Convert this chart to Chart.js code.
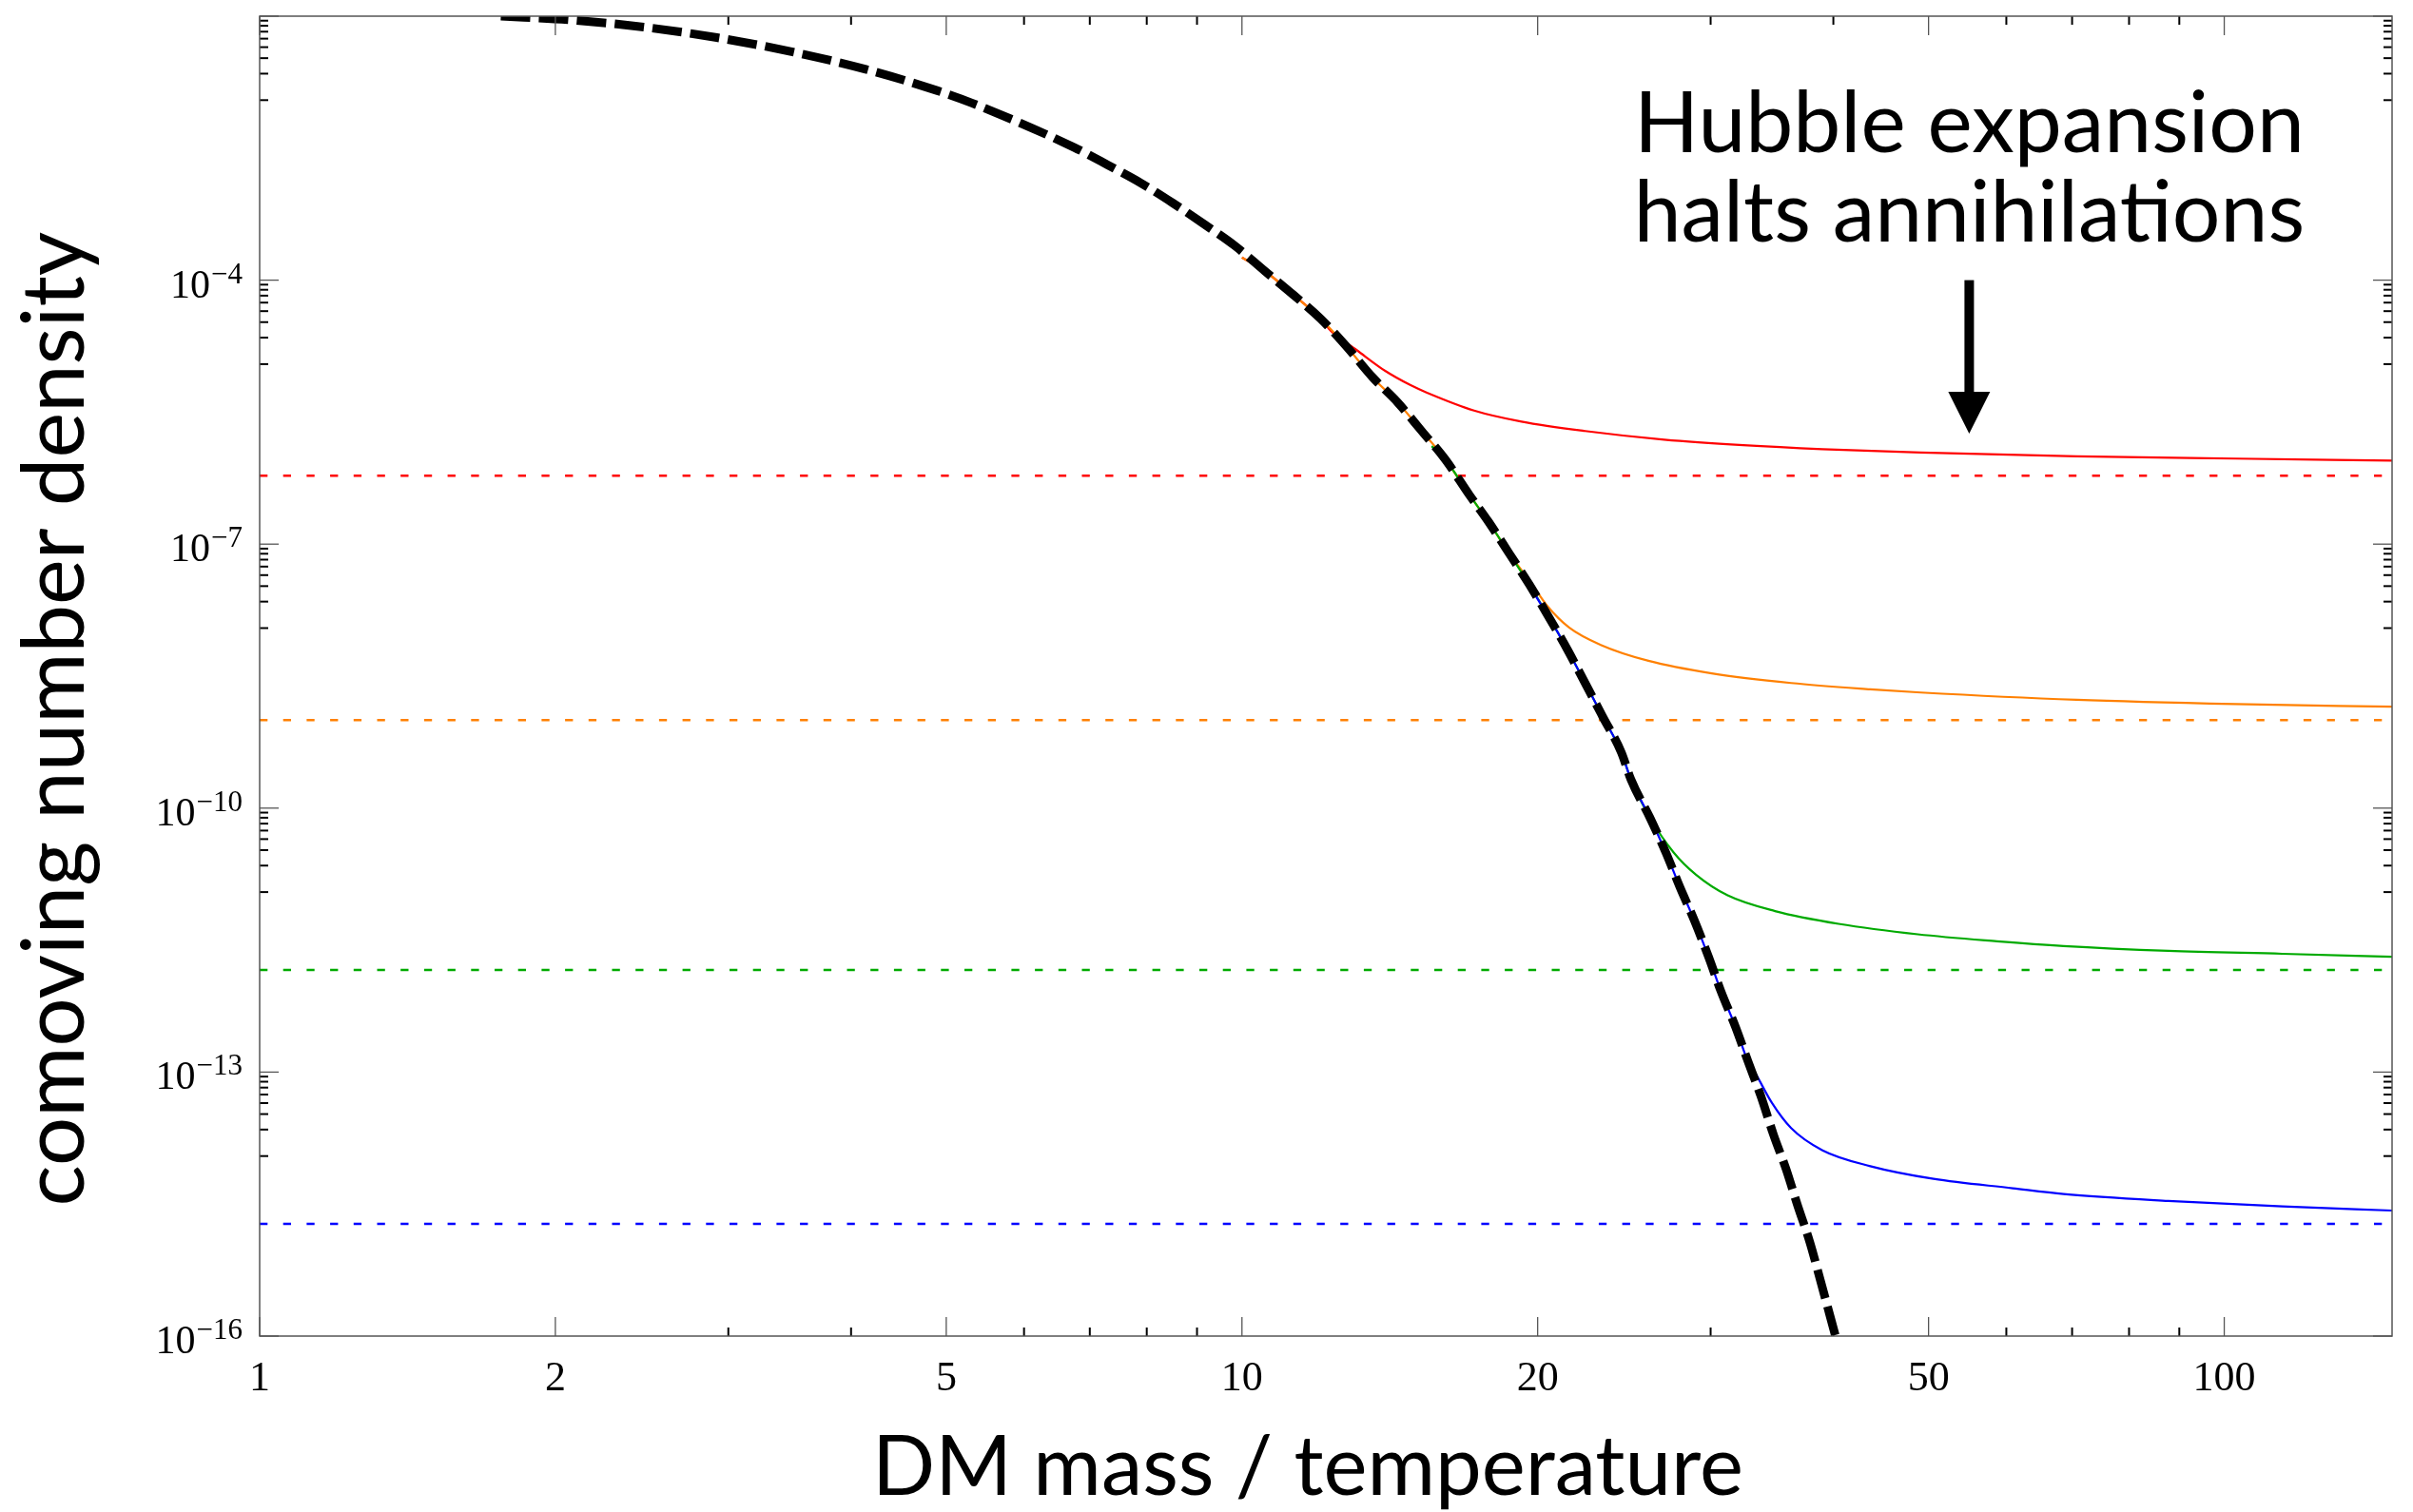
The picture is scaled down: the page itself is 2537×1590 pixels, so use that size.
<!DOCTYPE html>
<html>
<head>
<meta charset="utf-8">
<title>comoving number density</title>
<script src="https://cdn.jsdelivr.net/npm/chart.js@4.4.1/dist/chart.umd.min.js"></script>
<style>
  html, body { margin: 0; padding: 0; background: #fff; }
  #wrap { width: 2537px; height: 1590px; }
</style>
</head>
<body>
<div id="wrap"><canvas id="chart" width="2537" height="1590"></canvas></div>
<script>
// equilibrium abundance (thick black dashed)
const eqX = [1.76, 2.07, 2.46, 2.92, 3.47, 4.14, 4.89, 5.31, 6.75, 7.30, 7.90, 8.50, 9.16, 9.83,
  10.55, 11.28, 12.02, 12.75, 13.58, 14.41, 15.24, 16.11, 17.03, 17.81, 18.70, 19.62, 20.51,
  21.45, 22.35, 23.28, 24.34, 24.89, 26.02, 27.01, 27.92, 28.88, 29.86, 30.75, 31.80, 32.75,
  33.76, 34.76, 35.81, 36.75, 37.86, 38.72, 40.2];
const eqY = [0.1, 0.0908, 0.0751, 0.0571, 0.0397, 0.0249, 0.0143, 0.0103, 3.22e-3, 2.04e-3,
  1.26e-3, 7.55e-4, 4.30e-4, 2.47e-4, 1.27e-4, 6.81e-5, 3.66e-5, 1.81e-5, 7.89e-6, 4.06e-6,
  1.93e-6, 9.14e-7, 3.67e-7, 1.82e-7, 7.91e-8, 3.45e-8, 1.51e-8, 6.31e-9, 2.65e-9, 1.11e-9,
  4.27e-10, 2.11e-10, 7.80e-11, 3.13e-11, 1.26e-11, 5.27e-12, 2.03e-12, 8.17e-13, 3.27e-13,
  1.32e-13, 5.28e-14, 1.95e-14, 7.85e-15, 3.15e-15, 1.16e-15, 4.69e-16, 1.0e-16];

// solutions for four cross sections
const redX = [10, 10.55, 11.28, 12.02, 12.33, 13.09, 13.99, 14.85, 15.41, 17.23, 19.26, 22.35,
  26.91, 32.39, 39.0, 49.11, 70.74, 102.6, 148.2];
const redY = [1.81e-4, 1.27e-4, 6.81e-5, 3.66e-5, 2.62e-5, 1.60e-5, 9.31e-6, 6.4e-6, 5.30e-6,
  3.30e-6, 2.47e-6, 1.93e-6, 1.54e-6, 1.33e-6, 1.20e-6, 1.10e-6, 9.93e-7, 9.38e-7, 8.91e-7];

const orangeX = [10, 10.55, 11.28, 12.02, 12.75, 13.58, 14.41, 15.24, 16.11, 17.03, 17.81, 18.70,
  19.70, 20.44, 21.53, 23.19, 25.93, 30.08, 36.23, 43.62, 49.11, 70.74, 102.6, 148.2];
const orangeY = [1.81e-4, 1.27e-4, 6.81e-5, 3.66e-5, 1.81e-5, 7.89e-6, 4.06e-6, 1.93e-6, 9.14e-7,
  3.67e-7, 1.82e-7, 7.91e-8, 3.61e-8, 2.01e-8, 1.13e-8, 7.16e-9, 4.72e-9, 3.40e-9, 2.64e-9,
  2.24e-9, 2.06e-9, 1.70e-9, 1.52e-9, 1.42e-9];

const greenX = [15.6, 16.11, 17.03, 17.81, 18.70, 19.62, 20.51, 21.45, 22.35, 23.28, 24.34, 24.89,
  26.02, 27.51, 28.99, 31.22, 34.89, 40.49, 48.75, 58.69, 68.63, 87.69, 114.6, 148.2];
const greenY = [1.3e-6, 9.14e-7, 3.67e-7, 1.82e-7, 7.91e-8, 3.45e-8, 1.51e-8, 6.31e-9, 2.65e-9,
  1.11e-9, 4.27e-10, 2.11e-10, 7.80e-11, 3.13e-11, 1.75e-11, 1.02e-11, 6.76e-12,
  4.84e-12, 3.68e-12, 3.07e-12, 2.71e-12, 2.39e-12, 2.21e-12, 2.04e-12];

const blueX = [19.9, 20.51, 21.45, 22.35, 23.28, 24.34, 24.89, 26.02, 27.01, 27.92, 28.88, 29.86,
  30.75, 31.80, 32.75, 33.37, 34.63, 36.23, 39.0, 43.62, 50.59, 60.93, 68.63, 87.69, 114.6, 148.2];
const blueY = [2.6e-8, 1.51e-8, 6.31e-9, 2.65e-9, 1.11e-9, 4.27e-10, 2.11e-10, 7.80e-11, 3.13e-11,
  1.26e-11, 5.27e-12, 2.03e-12, 8.17e-13, 3.27e-13, 1.32e-13, 9.4e-14, 4.48e-14, 2.31e-14,
  1.29e-14, 8.53e-15, 6.12e-15, 4.78e-15, 4.11e-15, 3.43e-15, 2.97e-15, 2.67e-15];

// relic abundance levels (thin dashed), same order as colours
const relicLevels = [6.0e-7, 1.0e-9, 1.45e-12, 1.89e-15];
const seriesColors = ['#ff0000', '#ff8000', '#00aa00', '#0000ff'];

// axes
const xMin = 1, xMax = 148.2;
const yMin = 1e-16, yMax = 1e-1;
const xTickValues = [1, 2, 5, 10, 20, 50, 100];
const xTickLabels = ['1', '2', '5', '10', '20', '50', '100'];
const xMinorTicks = [3, 4, 6, 7, 8, 9, 30, 40, 60, 70, 80, 90];
const yTickExponents = [-16, -13, -10, -7, -4, -1];
const yTickLabels = ['10|\u221216', '10|\u221213', '10|\u221210', '10|\u22127', '10|\u22124', ''];

const xTitle = 'DM mass / temperature';
const yTitle = 'comoving number density';
const noteLines = ['Hubble expansion', 'halts annihilations'];
const noteX = 55, noteTipY = 1.8e-6, noteTopY = 1.0e-4;

function pts(xs, ys) {
  return xs.map((x, i) => ({x: x, y: ys[i]}));
}

function line(ctx, x1, y1, x2, y2) {
  ctx.beginPath();
  ctx.moveTo(x1, y1);
  ctx.lineTo(x2, y2);
  ctx.stroke();
}

function fitSize(ctx, text, family, target) {
  ctx.font = '100px ' + family;
  return 100 * target / ctx.measureText(text).width;
}

const frame = {
  id: 'frame',
  afterDraw(chart) {
    const ctx = chart.ctx;
    const a = chart.chartArea;
    const x = chart.scales.x, y = chart.scales.y;
    ctx.save();

    // minor ticks, inside the frame on all four sides
    ctx.strokeStyle = '#000';
    ctx.lineWidth = 2;
    xMinorTicks.forEach(v => {
      const px = x.getPixelForValue(v);
      line(ctx, px, a.bottom, px, a.bottom - 9);
      line(ctx, px, a.top, px, a.top + 9);
    });
    yTickExponents.forEach(e => {
      for (let k = 1; k <= 8; k++) {
        const v = Math.pow(10, e) * k / 9;
        if (v < yMin) continue;
        const py = y.getPixelForValue(v);
        line(ctx, a.left, py, a.left + 9, py);
        line(ctx, a.right, py, a.right - 9, py);
      }
    });

    // major ticks
    ctx.strokeStyle = '#555';
    ctx.lineWidth = 1.3;
    xTickValues.forEach(v => {
      const px = x.getPixelForValue(v);
      line(ctx, px, a.bottom, px, a.bottom - 20);
      line(ctx, px, a.top, px, a.top + 20);
    });
    yTickExponents.forEach(e => {
      const py = y.getPixelForValue(Math.pow(10, e));
      line(ctx, a.left, py, a.left + 20, py);
      line(ctx, a.right, py, a.right - 20, py);
    });

    // frame
    ctx.strokeStyle = '#555';
    ctx.lineWidth = 1.5;
    ctx.strokeRect(a.left, a.top, a.right - a.left, a.bottom - a.top);

    // tick labels
    ctx.fillStyle = '#000';
    ctx.textBaseline = 'alphabetic';
    ctx.textAlign = 'center';
    ctx.font = '44px "Liberation Serif", serif';
    xTickValues.forEach((v, i) => {
      ctx.fillText(xTickLabels[i], x.getPixelForValue(v), a.bottom + 57);
    });
    ctx.textAlign = 'right';
    yTickExponents.forEach((e, i) => {
      if (!yTickLabels[i]) return;
      const parts = yTickLabels[i].split('|');
      const py = y.getPixelForValue(Math.pow(10, e));
      const right = a.left - 18;
      ctx.font = '31px "Liberation Serif", serif';
      const w = ctx.measureText(parts[1]).width;
      ctx.fillText(parts[1], right, py + 3);
      ctx.font = '42px "Liberation Serif", serif';
      ctx.fillText(parts[0], right - w - 1, py + 18);
    });

    // axis titles
    const fam = 'Lato, "Open Sans", sans-serif';
    ctx.textAlign = 'center';
    let s = fitSize(ctx, xTitle, fam, 916);
    ctx.font = s + 'px ' + fam;
    ctx.fillText(xTitle, 1375, 1572);
    s = fitSize(ctx, yTitle, fam, 1025);
    ctx.save();
    ctx.translate(88, 756);
    ctx.rotate(-Math.PI / 2);
    ctx.font = s + 'px ' + fam;
    ctx.fillText(yTitle, 0, 0);
    ctx.restore();

    // annotation with arrow
    const ax = x.getPixelForValue(noteX);
    const tip = y.getPixelForValue(noteTipY);
    const top = y.getPixelForValue(noteTopY);
    ctx.fillRect(ax - 5, top, 10, tip - top - 40);
    ctx.beginPath();
    ctx.moveTo(ax - 22, tip - 44);
    ctx.lineTo(ax + 22, tip - 44);
    ctx.lineTo(ax, tip);
    ctx.closePath();
    ctx.fill();
    s = fitSize(ctx, noteLines[0], fam, 705);
    ctx.font = s + 'px ' + fam;
    ctx.fillText(noteLines[0], ax, top - 135);
    ctx.fillText(noteLines[1], ax, top - 41);

    ctx.restore();
  }
};

const datasets = [
  {data: pts(eqX, eqY), borderColor: '#000', borderWidth: 9, borderDash: [31, 9], order: 0},
  {data: pts(blueX, blueY), borderColor: seriesColors[3], borderWidth: 2.2, order: 1},
  {data: pts(greenX, greenY), borderColor: seriesColors[2], borderWidth: 2.2, order: 2},
  {data: pts(orangeX, orangeY), borderColor: seriesColors[1], borderWidth: 2.2, order: 3},
  {data: pts(redX, redY), borderColor: seriesColors[0], borderWidth: 2.2, order: 4}
];
relicLevels.forEach((v, i) => {
  datasets.push({
    data: [{x: xMin, y: v}, {x: xMax, y: v}],
    borderColor: seriesColors[i], borderWidth: 2.5, borderDash: [8.3, 16.4], order: 5
  });
});
datasets.forEach(d => {
  d.showLine = true;
  d.pointRadius = 0;
  d.fill = false;
  d.clip = 0;
  d.cubicInterpolationMode = 'monotone';
  d.borderCapStyle = 'butt';
});

chart = new Chart(document.getElementById('chart'), {
  type: 'scatter',
  data: {datasets: datasets},
  options: {
    responsive: false,
    animation: false,
    devicePixelRatio: 1,
    layout: {padding: {left: 273, right: 22, top: 17, bottom: 185}},
    plugins: {legend: {display: false}, tooltip: {enabled: false}},
    scales: {
      x: {type: 'logarithmic', min: xMin, max: xMax, display: false},
      y: {type: 'logarithmic', min: yMin, max: yMax, display: false}
    }
  },
  plugins: [frame]
});
</script>
</body>
</html>
